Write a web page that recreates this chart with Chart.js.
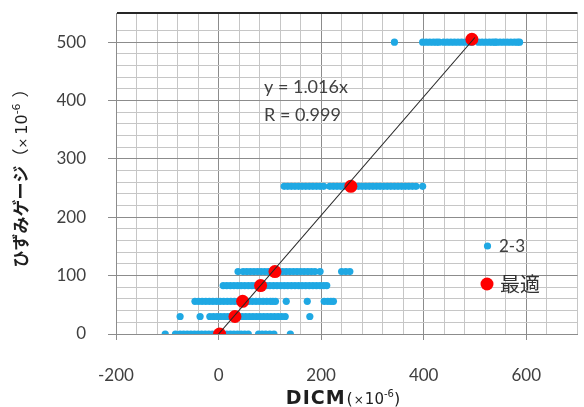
<!DOCTYPE html>
<html>
<head>
<meta charset="utf-8">
<script src="https://cdn.jsdelivr.net/npm/chart.js@4.4.0/dist/chart.umd.min.js"></script>
<style>
    html, body { margin: 0; padding: 0; background: #fff; }
    canvas { display: block; }
</style>
</head>
<body>
<canvas id="strainChart" width="584" height="407"></canvas>
<script>
// ひずみゲージの各段階 (×10^-6)
const gaugeLevels = [0, 30, 56, 83, 107, 253, 500];

// 2-3 の DICM 値（段階ごと）
const dicmAtGauge0 = [-104, -84, -75, -68, -61, -54, -47, -40, -33, -26, -19, -12, -5, 2, 9, 16, 23, 30, 37, 44, 51, 58, 78, 85, 92, 100, 108, 140];
const dicmAtGauge30 = [-75, -36, -17, -10, -3, 4, 11, 18, 25, 32, 39, 46, 53, 60, 67, 74, 81, 88, 95, 102, 109, 116, 123, 130, 178];
const dicmAtGauge56 = [-46, -39, -32, -25, -18, -11, -4, 3, 10, 17, 24, 31, 38, 45, 52, 59, 66, 73, 80, 87, 94, 101, 106, 111, 132, 173, 206, 213, 219, 224];
const dicmAtGauge83 = [9, 16, 23, 30, 37, 44, 51, 58, 65, 72, 79, 86, 93, 100, 107, 114, 121, 128, 135, 142, 149, 156, 163, 170, 177, 184, 191, 198, 205, 211];
const dicmAtGauge107 = [38, 48, 55, 62, 69, 76, 83, 90, 97, 104, 111, 118, 125, 132, 139, 146, 153, 160, 167, 174, 181, 188, 198, 240, 248, 256];
const dicmAtGauge253 = [128, 135, 142, 149, 156, 163, 170, 177, 184, 191, 198, 205, 217, 224, 231, 238, 245, 252, 259, 266, 273, 280, 287, 294, 301, 308, 315, 322, 329, 336, 343, 350, 357, 364, 371, 378, 385, 398];
const dicmAtGauge500 = [343, 398, 405, 412, 419, 425, 430, 439, 446, 453, 460, 467, 474, 481, 488, 494, 507, 514, 521, 528, 534, 539, 542, 549, 556, 563, 570, 577, 583, 587];
const dicmRows = [dicmAtGauge0, dicmAtGauge30, dicmAtGauge56, dicmAtGauge83, dicmAtGauge107, dicmAtGauge253, dicmAtGauge500];

// 最適
const optimumX = [2, 32, 47, 82, 110, 258, 494];
const optimumY = [0, 30, 56, 83, 107, 253, 505];

// 近似直線 y = a·x
const fitSlope = 1.016;
const fitR = 0.999;
const fitRange = [0, 500];

const xTickLabels = [-200, 0, 200, 400, 600];
const yTickLabels = [0, 100, 200, 300, 400, 500];

const colors = {
    blue: '#1fa8e3',
    red: '#ff0000',
    text: '#404040',
    title: '#1e1e1e',
    gridMajor: '#8c8c8c',
    gridMinor: '#c6c6c6',
    frame: '#262626'
};

// 文字列を複数のフォントで横に並べて描く
function drawRuns(ctx, runs, cx, baseline) {
    let total = 0;
    runs.forEach(r => {
        ctx.font = r.font;
        ctx.letterSpacing = r.spacing || '0px';
        r.w = ctx.measureText(r.text).width;
        total += r.w + (r.gap || 0);
    });
    let x = cx - total / 2;
    runs.forEach(r => {
        ctx.font = r.font;
        ctx.letterSpacing = r.spacing || '0px';
        ctx.fillText(r.text, x, baseline + (r.dy || 0));
        x += r.w + (r.gap || 0);
    });
    ctx.letterSpacing = '0px';
}

// 目盛ラベルのはみ出し分の余白を取らない
function noLabelPadding(scale) {
    scale.paddingLeft = 0;
    scale.paddingRight = 0;
    scale.paddingTop = 0;
    scale.paddingBottom = 0;
}

const decorations = {
    id: 'decorations',
    afterDraw(chart) {
        const ctx = chart.ctx;
        const datasets = chart.data.datasets;
        ctx.save();

        // 近似式
        ctx.fillStyle = colors.text;
        ctx.textAlign = 'left';
        ctx.textBaseline = 'middle';
        ctx.font = '18px Lato';
        ctx.fillText('y = ' + fitSlope.toFixed(3) + 'x', 264, 87);
        ctx.fillText('R = ' + fitR.toFixed(3), 264, 115);

        // 凡例
        const blueSet = datasets.find(d => d.label === '2-3');
        const redSet = datasets.find(d => d.label === '最適');
        ctx.fillStyle = blueSet.backgroundColor;
        ctx.beginPath();
        ctx.arc(487.5, 246, blueSet.pointRadius, 0, Math.PI * 2);
        ctx.fill();
        ctx.fillStyle = colors.text;
        ctx.font = '17px Lato';
        ctx.fillText(blueSet.label, 499, 247);

        ctx.fillStyle = redSet.backgroundColor;
        ctx.beginPath();
        ctx.arc(487, 284, redSet.pointRadius, 0, Math.PI * 2);
        ctx.fill();
        ctx.fillStyle = '#333';
        ctx.font = '20px "Noto Sans CJK JP"';
        ctx.fillText(redSet.label, 500, 284);

        // 軸タイトル
        ctx.fillStyle = colors.title;
        ctx.textBaseline = 'alphabetic';
        drawRuns(ctx, [
            { text: 'DICM', font: 'bold 19px "DejaVu Sans"', spacing: '1px', gap: 1 },
            { text: '(', font: '16px "DejaVu Sans"', gap: 1 },
            { text: '×', font: '12px "DejaVu Sans"', gap: 1 },
            { text: '10', font: '15px "DejaVu Sans"' },
            { text: '-6', font: '10px "DejaVu Sans"', dy: -7 },
            { text: ')', font: '16px "DejaVu Sans"' }
        ], 343, 404);

        ctx.translate(21, 174);
        ctx.rotate(-Math.PI / 2);
        drawRuns(ctx, [
            { text: 'ひずみゲージ', font: 'bold 17px "Noto Sans CJK JP"' },
            { text: '（', font: '17px "Noto Sans CJK JP"' },
            { text: '×', font: '13px "DejaVu Sans"', gap: 3 },
            { text: '10', font: '16px "DejaVu Sans"' },
            { text: '-6', font: '11px "DejaVu Sans"', dy: -7, gap: 6 },
            { text: '）', font: '17px "Noto Sans CJK JP"' }
        ], 0, 6);
        ctx.restore();
    }
};

const ctx = document.getElementById('strainChart').getContext('2d');

new Chart(ctx, {
    type: 'scatter',
    data: {
        datasets: [
            {
                label: 'fit',
                data: fitRange.map(x => ({ x: x, y: fitSlope * x })),
                showLine: true,
                borderColor: '#262626',
                borderWidth: 1.1,
                pointRadius: 0,
                order: 0
            },
            {
                label: '最適',
                data: optimumX.map((x, i) => ({ x: x, y: optimumY[i] })),
                backgroundColor: colors.red,
                borderColor: colors.red,
                pointRadius: 6.5,
                pointBorderWidth: 0,
                order: 1
            },
            {
                label: '2-3',
                data: dicmRows.flatMap((row, i) => row.map(x => ({ x: x, y: gaugeLevels[i] }))),
                backgroundColor: colors.blue,
                borderColor: colors.blue,
                pointRadius: 3.6,
                pointBorderWidth: 0,
                order: 2
            }
        ]
    },
    options: {
        responsive: false,
        animation: false,
        layout: { padding: { left: 0, top: 13, right: 1, bottom: 0 } },
        plugins: {
            legend: { display: false },
            tooltip: { enabled: false }
        },
        scales: {
            x: {
                type: 'linear',
                min: -200,
                max: 700,
                afterFit: scale => { scale.height = 73; noLabelPadding(scale); },
                ticks: {
                    stepSize: 40,
                    autoSkip: false,
                    maxRotation: 0,
                    padding: 25,
                    color: colors.text,
                    font: { family: 'Lato', size: 17 },
                    callback: v => xTickLabels.includes(v) ? v : ''
                },
                grid: {
                    color: c => (c.tick && c.tick.value % 200 === 0) ? colors.gridMajor : colors.gridMinor,
                    lineWidth: 1,
                    tickLength: 6,
                    tickColor: c => (c.tick && xTickLabels.includes(c.tick.value)) ? colors.gridMajor : 'rgba(0,0,0,0)'
                },
                border: { color: colors.gridMajor, width: 1 }
            },
            y: {
                type: 'linear',
                min: 0,
                max: 550,
                afterFit: scale => { scale.width = 116; noLabelPadding(scale); },
                ticks: {
                    stepSize: 20,
                    autoSkip: false,
                    padding: 22,
                    color: colors.text,
                    font: { family: 'Lato', size: 17 },
                    callback: v => yTickLabels.includes(v) ? v : ''
                },
                grid: {
                    color: c => {
                        if (!c.tick) return colors.gridMinor;
                        if (c.tick.value === 550) return colors.frame;
                        return c.tick.value % 100 === 0 ? colors.gridMajor : colors.gridMinor;
                    },
                    lineWidth: c => (c.tick && c.tick.value === 550) ? 2 : 1,
                    tickLength: 8,
                    tickColor: c => (c.tick && yTickLabels.includes(c.tick.value)) ? colors.gridMajor : 'rgba(0,0,0,0)'
                },
                border: { color: colors.gridMajor, width: 1 }
            }
        }
    },
    plugins: [decorations]
});
</script>
</body>
</html>
